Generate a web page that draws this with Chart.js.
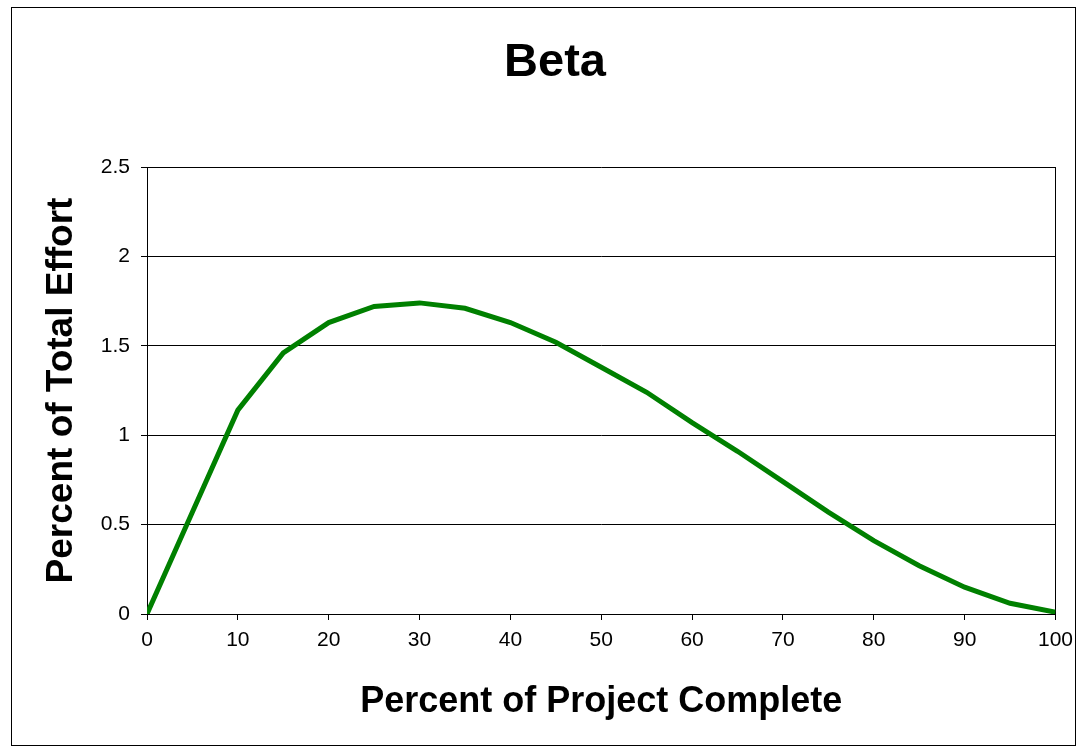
<!DOCTYPE html>
<html>
<head>
<meta charset="utf-8">
<script src="https://cdn.jsdelivr.net/npm/chart.js@4/dist/chart.umd.min.js"></script>
<style>
  html, body { margin: 0; padding: 0; background: #fff; }
  #wrap { position: absolute; left: 0; top: 0; width: 1081px; height: 749px; }
  #frame { position: absolute; left: 11px; top: 7px; width: 1063px; height: 737px; border: 1px solid #000; pointer-events: none; }
</style>
</head>
<body>
<div id="wrap">
  <canvas id="betaChart" width="1081" height="749"></canvas>
  <div id="frame"></div>
</div>
<script>
// percent of project complete
const projectComplete = [0, 5, 10, 15, 20, 25, 30, 35, 40, 45, 50, 55, 60, 65, 70, 75, 80, 85, 90, 95, 100];
// percent of total effort
const totalEffort = [0, 0.57, 1.14, 1.46, 1.63, 1.72, 1.74, 1.71, 1.63, 1.52, 1.38, 1.24, 1.07, 0.91, 0.74, 0.57, 0.41, 0.27, 0.15, 0.06, 0.01];

const chartTitle = 'Beta';
const xTitle = 'Percent of Project Complete';
const yTitle = 'Percent of Total Effort';

const fontFamily = 'Liberation Sans, Arial, sans-serif';

const ctx = document.getElementById('betaChart');
new Chart(ctx, {
    type: 'line',
    data: {
        datasets: [{
            data: projectComplete.map((x, i) => ({ x: x, y: totalEffort[i] })),
            borderColor: '#008000',
            borderWidth: 5,
            pointRadius: 0,
            tension: 0,
            fill: false
        }]
    },
    options: {
        responsive: false,
        animation: false,
        layout: { padding: { top: 0, right: 0, bottom: 0, left: 29 } },
        plugins: {
            legend: { display: false },
            tooltip: { enabled: false },
            title: {
                display: true,
                text: chartTitle,
                color: '#000',
                font: { family: fontFamily, size: 47, weight: 'bold' },
                padding: { top: 35, bottom: 75.6 }
            }
        },
        scales: {
            x: {
                type: 'linear',
                min: 0,
                max: 100,
                afterFit: (scale) => { scale.height = 135; },
                ticks: {
                    stepSize: 10,
                    color: '#000',
                    padding: 8,
                    font: { family: fontFamily, size: 21 }
                },
                grid: { drawOnChartArea: false, color: '#000', tickLength: 6 },
                border: { color: '#000', width: 1 },
                title: {
                    display: true,
                    text: xTitle,
                    color: '#000',
                    font: { family: fontFamily, size: 36, weight: 'bold' },
                    padding: { top: 25, bottom: 25 }
                }
            },
            y: {
                min: 0,
                max: 2.5,
                afterFit: (scale) => { scale.width = 118; },
                ticks: {
                    stepSize: 0.5,
                    color: '#000',
                    padding: 11,
                    font: { family: fontFamily, size: 21 },
                    callback: (value) => value
                },
                grid: { color: '#000', tickLength: 6 },
                border: { color: '#000', width: 1 },
                title: {
                    display: true,
                    text: yTitle,
                    color: '#000',
                    font: { family: fontFamily, size: 37, weight: 'bold' },
                    padding: { top: 11, bottom: 11 }
                }
            },
            // empty right axis: only its border line closes the plot box
            yRight: {
                position: 'right',
                min: 0,
                max: 2.5,
                afterFit: (scale) => { scale.width = 25; },
                ticks: { display: false },
                grid: { display: false },
                border: { color: '#000', width: 1 }
            }
        }
    }
});
</script>
</body>
</html>
